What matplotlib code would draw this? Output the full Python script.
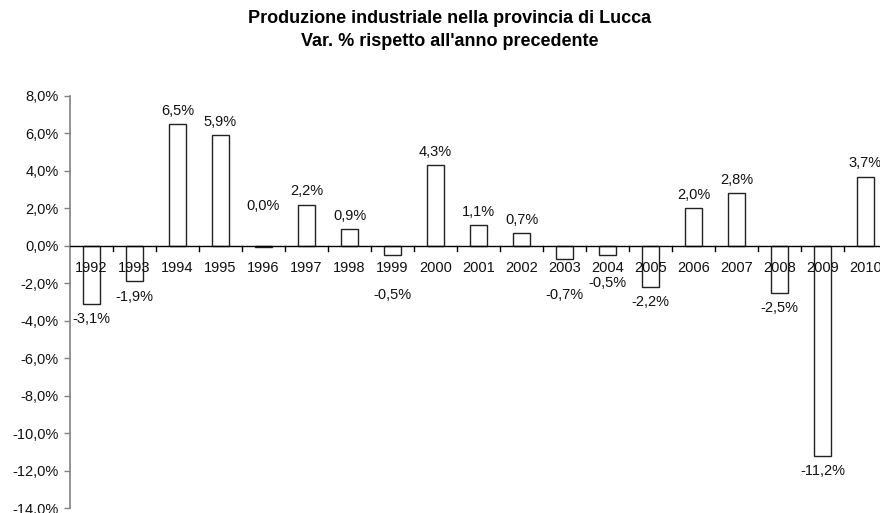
import matplotlib
matplotlib.use("Agg")
import matplotlib.pyplot as plt
from matplotlib.ticker import FuncFormatter, FixedLocator

years = [str(y) for y in range(1992, 2011)]
values = [-3.1, -1.9, 6.5, 5.9, -0.04, 2.2, 0.9, -0.5, 4.3, 1.1, 0.7,
          -0.7, -0.5, -2.2, 2.0, 2.8, -2.5, -11.2, 3.7]
yticks = [-14, -12, -10, -8, -6, -4, -2, 0, 2, 4, 6, 8]

# extra vertical shifts (in points) for labels moved clear of the year labels
label_shift = {"1996": 20, "1999": -18, "2003": -15, "2004": -9}

plt.rcParams['font.family'] = ['Liberation Sans', 'DejaVu Sans']
FS = 10.5

fig = plt.figure(figsize=(8.8, 5.13), dpi=100)
ax = fig.add_axes([70/880, 1 - 508/513, 817/880, (508 - 96)/513])

x = list(range(len(years)))
ax.bar(x, values, width=0.4, color='white', edgecolor='#222222', linewidth=1.0, zorder=2)

ax.set_xlim(-0.5, len(years) - 0.5)
ax.set_ylim(-14, 8)
ax.yaxis.set_major_locator(FixedLocator(yticks))
ax.yaxis.set_major_formatter(FuncFormatter(lambda v, p: f"{v:.1f}".replace('.', ',') + "%"))
ax.tick_params(axis='y', direction='out', length=4, width=1, color='#808080',
               labelsize=FS, pad=4, labelcolor='#111111')

for s in ['top', 'right', 'bottom']:
    ax.spines[s].set_visible(False)
ax.spines['left'].set_color('#808080')
ax.spines['left'].set_linewidth(1.2)
ax.set_xticks([])

# zero line with category boundary ticks
ax.axhline(0, color='black', linewidth=1.0, zorder=3)
for b in range(1, len(years)):
    ax.plot([b - 0.5, b - 0.5], [0, -0.27], color='black', linewidth=1.0, zorder=3,
            clip_on=False)

for xi, yr in zip(x, years):
    ax.annotate(yr, (xi, 0), xytext=(0, -16), textcoords='offset points',
                ha='center', va='center', fontsize=FS, color='#111111', zorder=4)

def rnd(v):
    r = round(v, 1)
    return 0.0 if abs(r) < 0.05 else r

def fmt(v):
    return f"{rnd(v):.1f}".replace('.', ',') + "%"

for xi, yr, v in zip(x, years, values):
    base = 9.5 if rnd(v) >= 0 else -11
    dy = base + label_shift.get(yr, 0)
    ax.annotate(fmt(v), (xi, v), xytext=(0, dy), textcoords='offset points',
                ha='center', va='center', fontsize=FS, color='#111111', zorder=4)

fig.text(0.511, 1 - 19/513, "Produzione industriale nella provincia di Lucca",
         ha='center', va='center', fontsize=13, fontweight='bold')
fig.text(0.511, 1 - 41/513, "Var. % rispetto all'anno precedente",
         ha='center', va='center', fontsize=13, fontweight='bold')

fig.savefig("out.png", dpi=100)
